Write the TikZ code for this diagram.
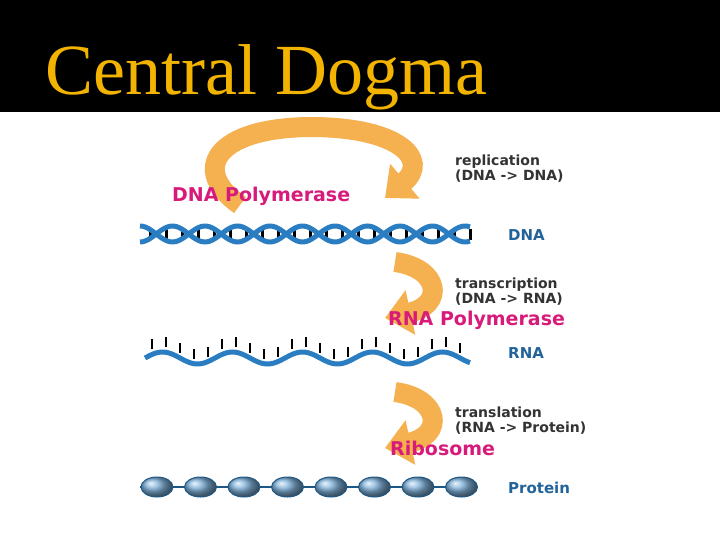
\documentclass[tikz,border=0pt]{standalone}
\usepackage{fontspec}
\setmainfont{Liberation Serif}
\newfontfamily\lbl{DejaVu Sans}
\usetikzlibrary{arrows.meta,shapes.geometric}
\definecolor{gold}{HTML}{F2B400}
\definecolor{org}{HTML}{F5B050}
\definecolor{helix}{HTML}{2A7DC0}
\definecolor{mag}{HTML}{D81B7A}
\tikzset{
  curlarrow/.style={org, line width=20pt, -{Triangle[width=44pt,length=26pt]}},
  steplabel/.style={anchor=west, font=\lbl\bfseries\fontsize{14}{15}\selectfont, text=black!80, inner sep=0, align=left},
  enz/.style={anchor=west, font=\lbl\bfseries\fontsize{19}{20}\selectfont, text=mag, inner sep=0},
  mol/.style={anchor=west, font=\lbl\bfseries\fontsize{15}{16}\selectfont, text=helix!80!black, inner sep=0},
  strand/.style={helix, line width=5pt},
  rung/.style={black, line width=3pt},
  bead/.style={ellipse, minimum width=32pt, minimum height=20pt, inner sep=0, draw=helix!70!black, line width=1pt, ball color=helix!60!white, shading=ball}
}
\begin{document}
\begin{tikzpicture}[x=1pt,y=-1pt]
\useasboundingbox (0,0) rectangle (720,540);
\fill[white] (0,0) rectangle (720,540);
\fill[black] (0,0) rectangle (720,112);
\node[anchor=base west, inner sep=0, text=gold, font=\fontsize{72}{72}\selectfont] (title) at (45,95) {Central Dogma};
% replication loop
\draw[curlarrow] (240,205) .. controls (190,170) and (215,128) .. (310,127) .. controls (400,127) and (430,160) .. (385,198);
% transcription
\draw[curlarrow] (395,262) .. controls (440,268) and (445,305) .. (385,318);
% translation
\draw[curlarrow] (395,392) .. controls (440,398) and (445,435) .. (385,448);
% DNA
\foreach \x in {150,166,...,470} \draw[rung] (\x,229) -- (\x,240);
\draw[strand,domain=140:470,samples=120] plot (\x,{234-8*cos((\x-140)/32.5*180)});
\draw[strand,domain=140:470,samples=120] plot (\x,{234+8*cos((\x-140)/32.5*180)});
% RNA
\foreach \x in {152,166,...,470} \draw[rung,line width=2.5pt] (\x,{353-6*sin((\x-145)/35*180)}) -- +(0,-10);
\draw[strand,domain=145:470,samples=120] plot (\x,{358-6*sin((\x-145)/35*180)});
% protein
\draw[helix!70!black,line width=2pt] (140,487) -- (470,487);
\foreach \i in {0,...,7} \node[bead] (b\i) at (157+\i*43.5,487) {};
% labels
\node[steplabel] (rep) at (455,169) {replication\\(DNA -> DNA)};
\node[enz] (dp) at (172,196) {DNA Polymerase};
\node[mol] (dna) at (508,235) {DNA};
\node[steplabel] (tsc) at (455,292) {transcription\\(DNA -> RNA)};
\node[enz] (rp) at (388,320) {RNA Polymerase};
\node[mol] (rna) at (508,353) {RNA};
\node[steplabel] (tsl) at (455,421) {translation\\(RNA -> Protein)};
\node[enz] (rib) at (390,448) {Ribosome};
\node[mol] (prot) at (508,488) {Protein};
\end{tikzpicture}
\end{document}
